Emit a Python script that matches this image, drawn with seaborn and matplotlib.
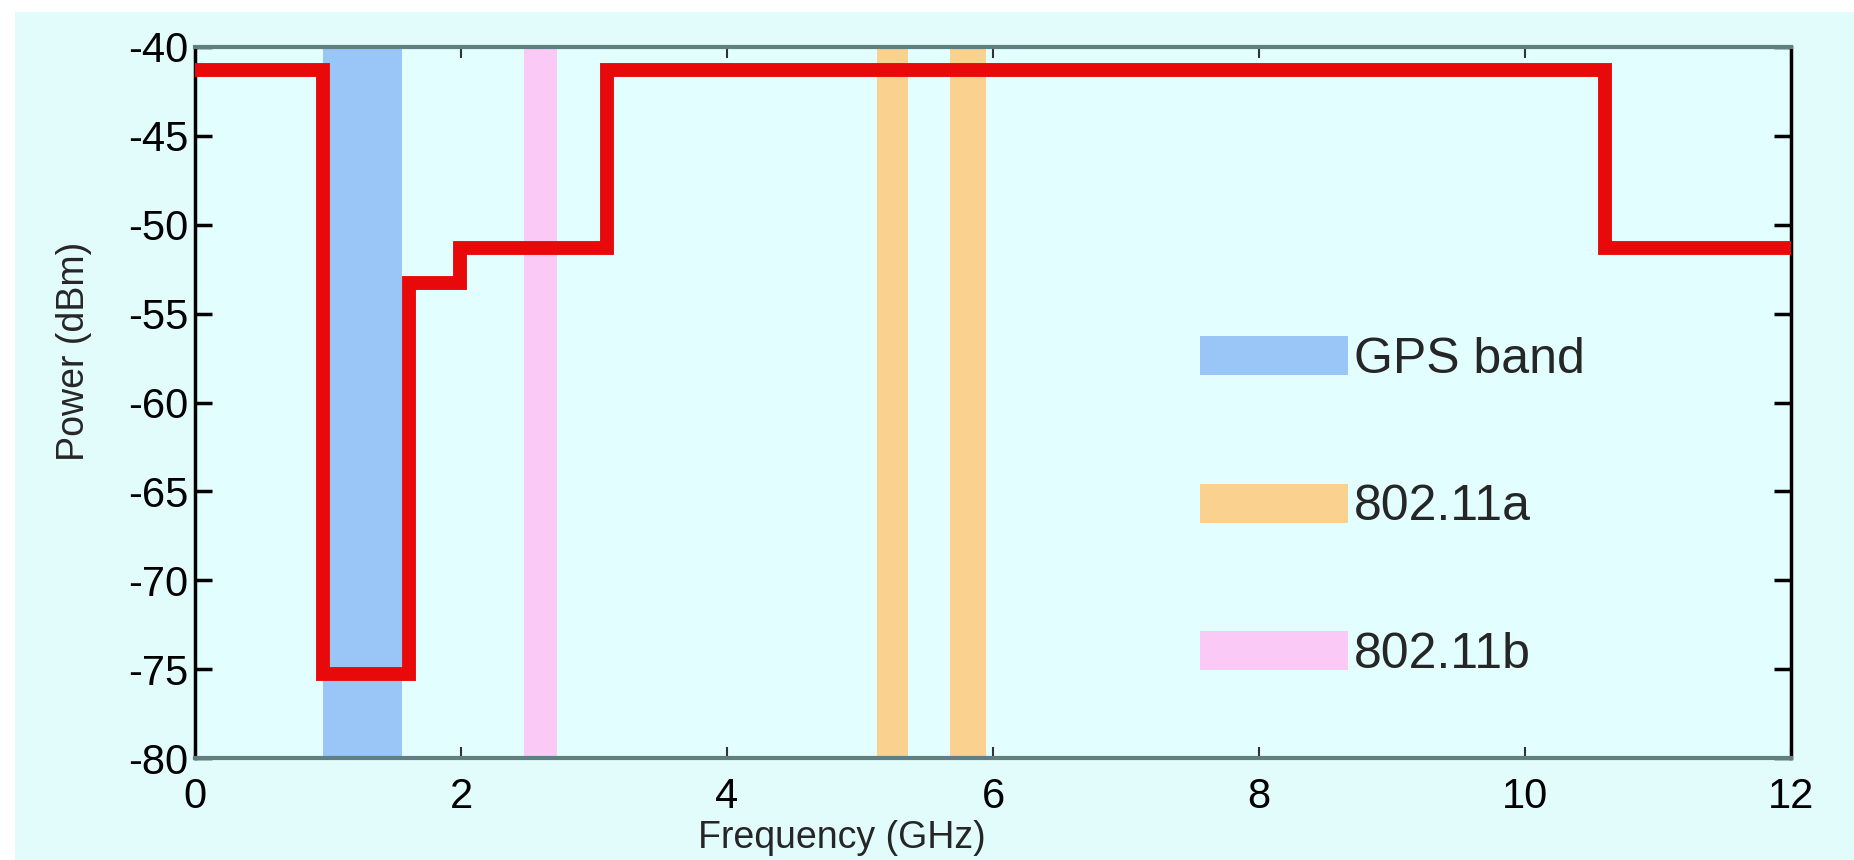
import pandas as pd
import seaborn as sns
import matplotlib.pyplot as plt
from matplotlib.patches import Rectangle, Patch

#------------- data: UWB emission mask (step levels) and the protected bands
freq_ghz = [0, 0.96, 1.61, 1.99, 3.1, 10.6, 12]
power_dbm = [-41.3, -75.3, -53.3, -51.3, -41.3, -51.3, -51.3]

band_names = ['GPS band', '802.11a', '802.11a', '802.11b']
band_lo = [0.96, 5.13, 5.68, 2.47]
band_hi = [1.56, 5.36, 5.95, 2.72]
band_colors = {'GPS band': '#99c6f6', '802.11a': '#fbd18f', '802.11b': '#fbc9f6'}

xticks = [0, 2, 4, 6, 8, 10, 12]
yticks = [-80, -75, -70, -65, -60, -55, -50, -45, -40]

#------------- style
sns.set_style('ticks')
plt.rcParams['font.family'] = ['Liberation Sans', 'DejaVu Sans']
plt.rcParams['axes.unicode_minus'] = False

fig = plt.figure(figsize=(18.54, 8.6), dpi=100, facecolor='white')
fig.patches.append(Rectangle((15 / 1854, 0), 1, 1 - 12 / 860, transform=fig.transFigure,
                             facecolor='#e2fcfc', edgecolor='none', zorder=-10))
ax = fig.add_axes([195 / 1854, 1 - 758 / 860, (1791 - 195) / 1854, (758 - 47) / 860])
ax.set_facecolor('#e2fefe')

#------------- bands
for name, lo, hi in zip(band_names, band_lo, band_hi):
    ax.axvspan(lo, hi, color=band_colors[name], lw=0, zorder=1)

#------------- mask line
df = pd.DataFrame({'freq': freq_ghz, 'power': power_dbm})
sns.lineplot(data=df, x='freq', y='power', drawstyle='steps-post', estimator=None,
             color='#e80a0a', linewidth=10, ax=ax, zorder=3,
             solid_joinstyle='miter', solid_capstyle='butt')

ax.set_xlim(0, 12)
ax.set_ylim(-80, -40)
ax.set_xticks(xticks)
ax.set_yticks(yticks)
ax.tick_params(axis='both', direction='in', labelsize=30, colors='black')
ax.tick_params(axis='y', length=12, width=2.5, pad=5, right=True)
ax.tick_params(axis='x', length=8, width=1.5, pad=14, top=True, color='#333333')

for side in ['left', 'right']:
    ax.spines[side].set_color('black')
    ax.spines[side].set_linewidth(2.5)
for side in ['top', 'bottom']:
    ax.spines[side].set_color('#5f7f80')
    ax.spines[side].set_linewidth(3)

ax.set_xlabel('Frequency (GHz)', fontsize=27)
ax.set_ylabel('Power (dBm)', fontsize=27)
ax.xaxis.label.set_va('center')
ax.yaxis.label.set_va('center')
ax.xaxis.set_label_coords(0.405, -0.112)
ax.yaxis.set_label_coords(-0.076, 0.572)

#------------- legend
handles = [Patch(facecolor=band_colors[n], edgecolor='none', label=n)
           for n in ['GPS band', '802.11a', '802.11b']]
ax.legend(handles=handles, loc='center left', bbox_to_anchor=(1200 / 1854, 1 - 507 / 860),
          bbox_transform=fig.transFigure, frameon=False, fontsize=36,
          handlelength=2.96, handleheight=0.82, handletextpad=0.12,
          labelspacing=2.02, borderpad=0, borderaxespad=0)

fig.savefig('out.png', dpi=100, facecolor=fig.get_facecolor())
